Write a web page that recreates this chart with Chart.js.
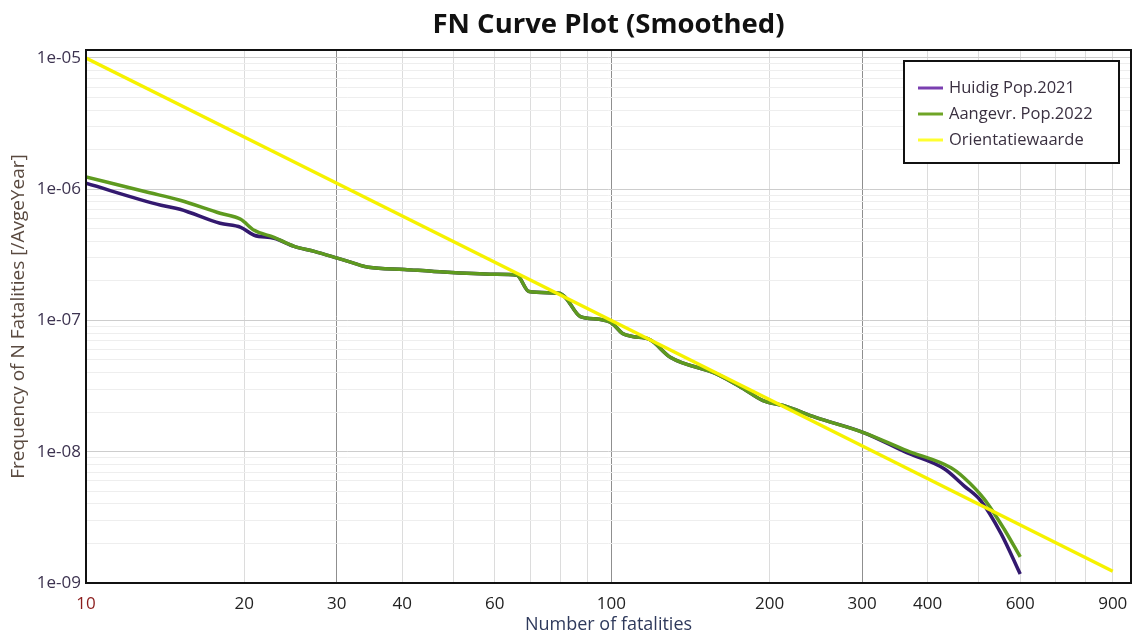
<!DOCTYPE html>
<html lang="nl">
<head>
<meta charset="UTF-8">
<title>FN Curve Plot</title>
<style>
  body { margin: 0; background: #fff; }
  #wrap { width: 1137px; height: 636px; }
</style>
</head>
<body>
<div id="wrap"><canvas id="fn-chart"></canvas></div>
<script src="https://cdn.jsdelivr.net/npm/chart.js@4.4.1/dist/chart.umd.min.js"></script>
<script>
// waarden
const huidigN = [10, 13.9, 15.1, 18.0, 19.7, 20.9, 22.8, 24.9, 27.2, 30.2, 32.0, 34.5, 40.4, 45.5, 60.0, 66.1, 69.7, 79.5, 81.7, 87.3, 94.8, 100.4, 105, 109.7, 118.2, 129.7, 158.1, 178.1, 194.4, 212.3, 245.5, 302, 365, 430, 469, 505, 552, 600];
const huidigF = [1.11e-6, 7.55e-7, 7.04e-7, 5.50e-7, 5.13e-7, 4.46e-7, 4.23e-7, 3.67e-7, 3.36e-7, 2.97e-7, 2.77e-7, 2.54e-7, 2.45e-7, 2.37e-7, 2.25e-7, 2.21e-7, 1.66e-7, 1.61e-7, 1.50e-7, 1.07e-7, 1.02e-7, 9.48e-8, 7.96e-8, 7.55e-8, 7.16e-8, 5.22e-8, 3.94e-8, 3.03e-8, 2.45e-8, 2.25e-8, 1.82e-8, 1.40e-8, 9.83e-9, 7.41e-9, 5.50e-9, 4.23e-9, 2.37e-9, 1.17e-9];

const aangevrN = [10, 13.1, 15.1, 18.0, 19.7, 20.9, 22.8, 24.9, 27.2, 30.2, 32.0, 34.5, 40.4, 45.5, 60.0, 66.1, 69.7, 79.5, 81.7, 87.3, 94.8, 100.4, 105, 109.7, 118.2, 129.7, 158.1, 178.1, 194.4, 212.3, 245.5, 302, 365, 443, 469, 512, 559, 600];
const aangevrF = [1.24e-6, 9.48e-7, 8.24e-7, 6.56e-7, 5.90e-7, 4.86e-7, 4.30e-7, 3.67e-7, 3.36e-7, 2.97e-7, 2.77e-7, 2.54e-7, 2.45e-7, 2.37e-7, 2.25e-7, 2.21e-7, 1.66e-7, 1.61e-7, 1.50e-7, 1.07e-7, 1.02e-7, 9.48e-8, 7.96e-8, 7.55e-8, 7.16e-8, 5.22e-8, 3.94e-8, 3.03e-8, 2.45e-8, 2.25e-8, 1.82e-8, 1.40e-8, 1.02e-8, 7.55e-9, 6.34e-9, 4.38e-9, 2.58e-9, 1.58e-9];

const orientN = [10, 100, 900];
const orientF = [1e-5, 1e-7, 1.23e-9];

const xTickLabels = [10, 20, 30, 40, 60, 100, 200, 300, 400, 600, 900];
const yTickValues = [1e-9, 1e-8, 1e-7, 1e-6, 1e-5];
const yTickLabels = ['1e-09', '1e-08', '1e-07', '1e-06', '1e-05'];

const toPoints = (xs, ys) => xs.map((x, i) => ({ x: x, y: ys[i] }));

// rasterlijnen: 1..9 per decade
const xGrid = [];
for (let d = 10; d < 1000; d *= 10) for (let m = 1; m < 10; m++) xGrid.push(m * d);
const yGrid = [];
for (let e = -9; e < -5; e++) for (let m = 1; m < 10; m++) yGrid.push(m * Math.pow(10, e));
yGrid.push(1e-5);

const isDecade = v => Math.abs(Math.log10(v) - Math.round(Math.log10(v))) < 1e-6;
const FONT = '"Open Sans", "DejaVu Sans", sans-serif';

// legenda in het grafiekvlak, met kader
const legendBox = {
  id: 'legendBox',
  afterDraw(chart) {
    const { ctx, chartArea } = chart;
    const w = 215, h = 102;
    const x = chartArea.right - 12 - w, y = chartArea.top + 11;
    ctx.save();
    ctx.fillStyle = '#fff';
    ctx.fillRect(x, y, w, h);
    ctx.strokeStyle = '#111';
    ctx.lineWidth = 2;
    ctx.strokeRect(x, y, w, h);
    ctx.font = '16.5px ' + FONT;
    ctx.textBaseline = 'middle';
    chart.data.datasets.forEach((ds, i) => {
      const rowY = y + 27 + i * 26;
      ctx.strokeStyle = ds.legendColor;
      ctx.lineWidth = 3;
      ctx.beginPath();
      ctx.moveTo(x + 14, rowY);
      ctx.lineTo(x + 39, rowY);
      ctx.stroke();
      ctx.fillStyle = '#3a3040';
      ctx.fillText(ds.label, x + 45, rowY);
    });
    ctx.restore();
  }
};

// zwart kader om het plotgebied
const frame = {
  id: 'frame',
  afterDatasetsDraw(chart) {
    const { ctx, chartArea: a } = chart;
    ctx.save();
    ctx.strokeStyle = '#111';
    ctx.lineWidth = 2;
    ctx.strokeRect(a.left, a.top, a.right - a.left, a.bottom - a.top);
    ctx.restore();
  }
};

new Chart(document.getElementById('fn-chart'), {
  type: 'line',
  data: {
    datasets: [
      {
        label: 'Huidig Pop.2021',
        data: toPoints(huidigN, huidigF),
        borderColor: '#33196f',
        legendColor: '#7a3fb0',
        borderWidth: 3.5,
        order: 3
      },
      {
        label: 'Aangevr. Pop.2022',
        data: toPoints(aangevrN, aangevrF),
        borderColor: '#5e9a1f',
        legendColor: '#6fa526',
        borderWidth: 3.5,
        order: 2
      },
      {
        label: 'Orientatiewaarde',
        data: toPoints(orientN, orientF),
        borderColor: '#f6f200',
        legendColor: '#ffff30',
        borderWidth: 3.5,
        order: 1
      }
    ]
  },
  options: {
    responsive: true,
    maintainAspectRatio: false,
    animation: false,
    layout: { padding: { right: 6 } },
    elements: {
      point: { radius: 0 },
      line: { cubicInterpolationMode: 'monotone' }
    },
    plugins: {
      legend: { display: false },
      tooltip: { enabled: false },
      title: {
        display: true,
        text: 'FN Curve Plot (Smoothed)',
        fullSize: false,
        color: '#111',
        font: { family: FONT, size: 27.5, weight: 'bold' },
        padding: { top: 9, bottom: 8 }
      }
    },
    scales: {
      x: {
        type: 'logarithmic',
        min: 10,
        max: 975,
        afterBuildTicks: s => { s.ticks = xGrid.map(v => ({ value: v })); },
        afterFit: s => { s.height = 53; },
        grid: {
          drawTicks: true,
          tickLength: 11,
          tickColor: 'rgba(0,0,0,0)',
          color: c => {
            const v = c.tick && c.tick.value;
            if (v === 10) return 'rgba(0,0,0,0)';
            return [30, 100, 300].includes(v) ? '#8f8f8f' : '#dcdcdc';
          }
        },
        border: { display: false },
        ticks: {
          autoSkip: false,
          maxRotation: 0,
          padding: 0,
          font: { family: FONT, size: 17 },
          color: c => (c.tick && c.tick.value === 10 ? '#8b1c1c' : '#222'),
          callback: v => (xTickLabels.includes(v) ? String(v) : '')
        },
        title: {
          display: true,
          text: 'Number of fatalities',
          color: '#2f3a5c',
          font: { family: FONT, size: 18 },
          padding: { top: 0, bottom: 0 }
        }
      },
      y: {
        type: 'logarithmic',
        min: 1e-9,
        max: 1.15e-5,
        afterBuildTicks: s => { s.ticks = yGrid.map(v => ({ value: v })); },
        afterFit: s => { s.width = 86; },
        grid: {
          drawTicks: false,
          color: c => (c.tick && isDecade(c.tick.value) ? '#cdcdcd' : '#eeeeee')
        },
        border: { display: false },
        ticks: {
          autoSkip: false,
          padding: 5,
          font: { family: FONT, size: 17 },
          color: '#3d3350',
          callback: v => {
            const i = yTickValues.findIndex(t => Math.abs(Math.log10(t) - Math.log10(v)) < 1e-6);
            return i >= 0 ? yTickLabels[i] : '';
          }
        },
        title: {
          display: true,
          text: 'Frequency of N Fatalities [/AvgeYear]',
          color: '#5a4a40',
          font: { family: FONT, size: 19 },
          padding: { top: 7, bottom: 0 }
        }
      }
    }
  },
  plugins: [frame, legendBox]
});
</script>
</body>
</html>
